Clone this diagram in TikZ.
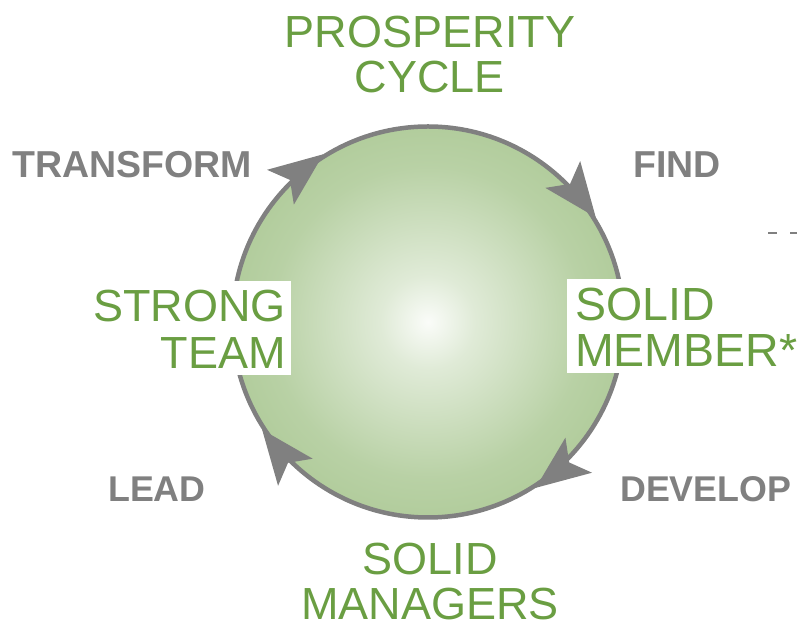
\documentclass[tikz,border=0pt]{standalone}
\usepackage{fontspec}
\setmainfont{Liberation Sans}
\definecolor{tgreen}{HTML}{6A9E42}
\definecolor{tgray}{HTML}{808080}
\definecolor{fillgreen}{HTML}{9DBF82}
\colorlet{glowA}{white!95!fillgreen}
\colorlet{glowB}{white!68!fillgreen}
\colorlet{glowC}{white!28!fillgreen}
\pgfdeclareradialshading{glow}{\pgfpoint{0bp}{0bp}}{color(0bp)=(glowA); color(6bp)=(glowB); color(20bp)=(glowC); color(40bp)=(fillgreen); color(50bp)=(fillgreen)}
\tikzset{
  lab/.style={text=tgreen, font=\fontsize{45}{46}\selectfont, inner sep=0pt},
  act/.style={text=tgray, font=\fontsize{37.5}{40}\selectfont\bfseries, inner sep=0pt},
  actsmall/.style={act, font=\fontsize{35.8}{40}\selectfont\bfseries},
  headtip/.pic={\fill[tgray] (0,0) -- (-54,22) -- (-42,0) -- (-54,-22) -- cycle;},
  whitebox/.style={fill=white}
}
\begin{document}
\begin{tikzpicture}[x=1pt,y=1pt]
\useasboundingbox (0,0) rectangle (797,628);
% cycle circle
\node[circle, minimum size=391pt, inner sep=0pt, draw=tgray, line width=4.5pt, shade, shading=glow] (cyc) at (428,306) {};
% arrowheads (clockwise)
\pic[rotate=37.6] at (cyc.122.6) {headtip};
\pic[rotate=-52.4] at (cyc.32.6) {headtip};
\pic[rotate=-142.8] at (cyc.-57.8) {headtip};
\pic[rotate=128] at (cyc.213) {headtip};
% white label boxes
\fill[whitebox] (567,255) rectangle (797,349);
\fill[whitebox] (90,253) rectangle (291,347);
% green labels
\node[lab, anchor=base] (pros1) at (430,580) {PROSPERITY};
\node[lab, anchor=base] (pros2) at (430,535) {CYCLE};
\node[lab, anchor=base west, font=\fontsize{46.5}{46}\selectfont] (mem1) at (575,307) {SOLID};
\node[lab, anchor=base west, font=\fontsize{46.5}{46}\selectfont] (mem2) at (575,261) {MEMBER*};
\node[lab, anchor=base east] (team1) at (286,306) {STRONG};
\node[lab, anchor=base east] (team2) at (286,259) {TEAM};
\node[lab, anchor=base] (man1) at (430,53) {SOLID};
\node[lab, anchor=base] (man2) at (430,8) {MANAGERS};
% gray action labels
\node[act, anchor=base west] (tr) at (12,450) {TRANSFORM};
\node[act, anchor=base west] (fi) at (633,450) {FIND};
\node[actsmall, anchor=base west] (le) at (108,126) {LEAD};
\node[actsmall, anchor=base west] (de) at (620,126) {DEVELOP};
% dashed line leaving the picture
\coordinate (d1) at (768,395);
\coordinate (d2) at (800,395);
\draw[tgray, line width=2.5pt, dash pattern=on 9pt off 13pt] (d1) -- (d2);
\end{tikzpicture}
\end{document}
